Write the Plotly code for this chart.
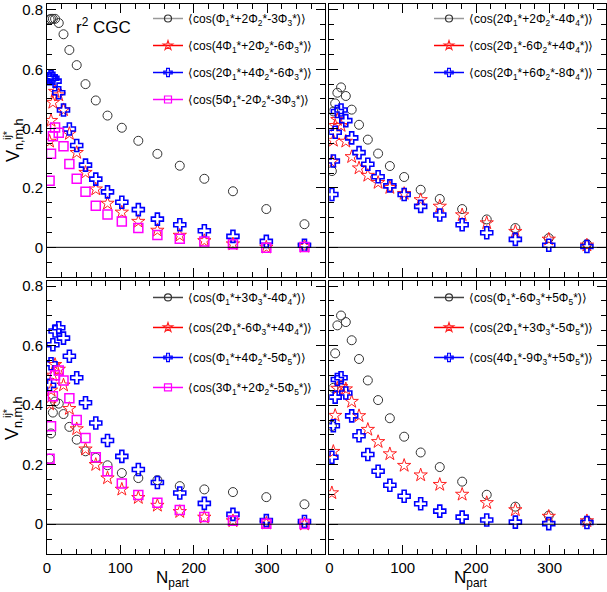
import re
import plotly.graph_objects as go

# N_part of the centrality bins (shared by all series)
npart = [3.5, 5.5, 8, 11, 16, 22.5, 30.5, 40.5, 52.5, 66.5, 82.5, 102, 124.5,
         150.5, 181, 214.5, 253.5, 299, 351]

# top-left panel
tl_names = ["⟨cos(Φ1*+2Φ2*-3Φ3*)⟩", "⟨cos(4Φ1*+2Φ2*-6Φ3*)⟩",
            "⟨cos(2Φ1*+4Φ2*-6Φ3*)⟩", "⟨cos(5Φ1*-2Φ2*-3Φ3*)⟩"]
tl_circle = [0.768, 0.770, 0.770, 0.770, 0.756, 0.718, 0.665, 0.614, 0.550, 0.495,
             0.444, 0.403, 0.359, 0.315, 0.275, 0.231, 0.189, 0.129, 0.078]
tl_star = [0.357, 0.427, 0.488, 0.525, 0.513, 0.463, 0.383, 0.319, 0.252, 0.196,
           0.148, 0.118, 0.087, 0.057, 0.040, 0.022, 0.011, 0.000, 0.003]
tl_cross = [0.568, 0.575, 0.570, 0.560, 0.521, 0.463, 0.399, 0.343, 0.277, 0.230,
            0.187, 0.152, 0.127, 0.095, 0.076, 0.056, 0.037, 0.020, 0.007]
tl_square = [0.224, 0.315, 0.374, 0.404, 0.386, 0.341, 0.281, 0.231, 0.187, 0.140,
             0.111, 0.087, 0.065, 0.042, 0.029, 0.020, 0.010, -0.001, 0.001]

# top-right panel
tr_names = ["⟨cos(2Φ1*+2Φ2*-4Φ4*)⟩", "⟨cos(2Φ1*-6Φ2*+4Φ4*)⟩",
            "⟨cos(2Φ1*+6Φ2*-8Φ4*)⟩"]
tr_circle = [0.257, 0.458, 0.485, 0.521, 0.539, 0.510, 0.464, 0.413, 0.363, 0.316,
             0.274, 0.237, 0.194, 0.163, 0.129, 0.094, 0.065, 0.031, 0.011]
tr_star = [0.289, 0.360, 0.410, 0.430, 0.410, 0.357, 0.305, 0.267, 0.242, 0.218,
           0.201, 0.181, 0.160, 0.138, 0.109, 0.082, 0.053, 0.027, 0.007]
tr_cross = [0.178, 0.291, 0.388, 0.458, 0.463, 0.427, 0.369, 0.319, 0.280, 0.238,
            0.207, 0.178, 0.138, 0.109, 0.076, 0.049, 0.027, 0.007, 0.003]

# bottom-left panel
bl_names = ["⟨cos(Φ1*+3Φ3*-4Φ4*)⟩", "⟨cos(2Φ1*-6Φ3*+4Φ4*)⟩",
            "⟨cos(Φ1*+4Φ2*-5Φ5*)⟩", "⟨cos(3Φ1*+2Φ2*-5Φ5*)⟩"]
bl_circle = [0.220, 0.305, 0.375, 0.412, 0.405, 0.370, 0.327, 0.284, 0.245, 0.223,
             0.198, 0.172, 0.155, 0.148, 0.128, 0.117, 0.108, 0.091, 0.067]
bl_star = [0.403, 0.450, 0.500, 0.536, 0.520, 0.467, 0.388, 0.320, 0.252, 0.200,
           0.155, 0.117, 0.089, 0.063, 0.042, 0.023, 0.011, 0.003, 0.000]
bl_cross = [0.467, 0.539, 0.603, 0.649, 0.660, 0.625, 0.564, 0.492, 0.408, 0.340,
            0.281, 0.228, 0.184, 0.140, 0.105, 0.070, 0.033, 0.012, 0.009]
bl_square = [0.220, 0.329, 0.430, 0.500, 0.516, 0.483, 0.423, 0.350, 0.290, 0.225,
             0.178, 0.137, 0.098, 0.072, 0.048, 0.024, 0.012, 0.002, 0.001]

# bottom-right panel
br_names = ["⟨cos(Φ1*-6Φ3*+5Φ5*)⟩", "⟨cos(2Φ1*+3Φ3*-5Φ5*)⟩",
            "⟨cos(4Φ1*-9Φ3*+5Φ5*)⟩"]
br_circle = [0.330, 0.458, 0.574, 0.668, 0.701, 0.679, 0.618, 0.555, 0.483, 0.417,
             0.356, 0.294, 0.241, 0.192, 0.143, 0.099, 0.059, 0.029, 0.011]
br_star = [0.105, 0.244, 0.365, 0.456, 0.462, 0.454, 0.412, 0.364, 0.318, 0.277,
           0.236, 0.197, 0.165, 0.133, 0.100, 0.072, 0.048, 0.026, 0.011]
br_cross = [0.225, 0.331, 0.427, 0.486, 0.492, 0.441, 0.364, 0.297, 0.234, 0.178,
            0.131, 0.094, 0.069, 0.044, 0.024, 0.014, 0.007, 0.002, 0.006]

FONT = "Liberation Sans, Arial, Helvetica, sans-serif"
W, H = 607, 592
ML, MR, MT, MB = 47, 1, 0, 38
PW, PH = W - ML - MR, H - MT - MB

# marker styles: (symbol, size, marker line width, marker color, legend line color)
STYLES = {
    "circle": ("circle-open", 9, 1, "#333333", "#999999"),
    "star": ("star-open", 10, 1, "#ff2020", "#ff0000"),
    "cross": ("cross-open", 10, 1.6, "#0000ff", "#0000ff"),
    "square": ("square-open", 9, 1.5, "#ff00ff", "#ff00ff"),
}


def fmt_label(s):
    return re.sub(r"Φ(\d)", r"Φ<sub>\1</sub>", s)


def px_x(p):
    return (p - ML) / PW


def px_y(p):
    return 1 - (p - MT) / PH


panels = [
    ("x", "y", "legend", tl_names, [("circle", tl_circle), ("star", tl_star),
                                    ("cross", tl_cross), ("square", tl_square)]),
    ("x2", "y2", "legend2", tr_names, [("circle", tr_circle), ("star", tr_star),
                                       ("cross", tr_cross)]),
    ("x3", "y3", "legend3", bl_names, [("circle", bl_circle), ("star", bl_star),
                                       ("cross", bl_cross), ("square", bl_square)]),
    ("x4", "y4", "legend4", br_names, [("circle", br_circle), ("star", br_star),
                                       ("cross", br_cross)]),
]

fig = go.Figure()

for xa, ya, leg, names, series in panels:
    for i, (kind, vals) in enumerate(series):
        sym, size, lw, col, lcol = STYLES[kind]
        if kind == "circle" and xa in ("x3", "x4"):
            lcol = "#444444"
        fig.add_trace(go.Scatter(
            x=npart, y=vals, xaxis=xa, yaxis=ya, mode="markers",
            marker=dict(symbol=sym, size=size, color=col, line=dict(width=lw, color=col)),
            showlegend=False, hoverinfo="x+y"
        ))
        # legend entry drawn ROOT-style: line + marker
        fig.add_trace(go.Scatter(
            x=[None], y=[None], xaxis=xa, yaxis=ya, mode="lines+markers",
            name=fmt_label(names[i]), legend=leg, legendgroup=f"{leg}_{i}",
            line=dict(color=lcol, width=1.5),
            marker=dict(symbol=sym, size=7, color=col, line=dict(width=1.2, color=col)),
        ))

top_dom = [px_y(275), 1.0]
bot_dom = [0.0, px_y(279)]
left_dom = [0.0, px_x(325)]
right_dom = [px_x(329.3), 1.0]

axis_common = dict(
    showline=True, linecolor="black", linewidth=1, mirror="ticks",
    ticks="inside", ticklen=9, tickcolor="black", tickwidth=1,
    showgrid=False, zeroline=False,
    tickfont=dict(family=FONT, size=15, color="black"),
)

xticks = dict(tick0=0, dtick=100, minor=dict(dtick=20, ticks="inside", ticklen=5,
                                             tickcolor="black", showgrid=False))
yticks = dict(tick0=0, dtick=0.2, minor=dict(dtick=0.05, ticks="inside", ticklen=5,
                                             tickcolor="black", showgrid=False))

layout = dict(
    width=W, height=H,
    margin=dict(l=ML, r=MR, t=MT, b=MB),
    plot_bgcolor="white", paper_bgcolor="white",
    font=dict(family=FONT, color="black"),
    xaxis=dict(domain=left_dom, range=[0, 379], anchor="y", showticklabels=False,
               **xticks, **axis_common),
    xaxis2=dict(domain=right_dom, range=[0, 377], anchor="y2", showticklabels=False,
                **xticks, **axis_common),
    xaxis3=dict(domain=left_dom, range=[0, 379], anchor="y3", **xticks, **axis_common),
    xaxis4=dict(domain=right_dom, range=[0, 377], anchor="y4", **xticks, **axis_common),
    yaxis=dict(domain=top_dom, range=[-0.1, 0.82], anchor="x", **yticks, **axis_common),
    yaxis2=dict(domain=top_dom, range=[-0.1, 0.82], anchor="x2", showticklabels=False,
                **yticks, **axis_common),
    yaxis3=dict(domain=bot_dom, range=[-0.1, 0.817], anchor="x3", **yticks, **axis_common),
    yaxis4=dict(domain=bot_dom, range=[-0.1, 0.817], anchor="x4", showticklabels=False,
                **yticks, **axis_common),
)

legend_pos = {"legend": (148, 0), "legend2": (429, 0), "legend3": (148, 281),
              "legend4": (429, 281)}
for leg, (lx, ly) in legend_pos.items():
    gap = 8 if leg in ("legend", "legend2") else 11
    layout[leg] = dict(x=px_x(lx), y=px_y(ly), xanchor="left", yanchor="top",
                       bgcolor="rgba(0,0,0,0)", borderwidth=0,
                       font=dict(family=FONT, size=12, color="black"),
                       tracegroupgap=gap, itemwidth=30)

fig.update_layout(**layout)

# zero lines
for xa, ya in [("x", "y"), ("x2", "y2"), ("x3", "y3"), ("x4", "y4")]:
    fig.add_shape(type="line", xref=f"{xa} domain", yref=ya, x0=0, x1=1, y0=0, y1=0,
                  line=dict(color="black", width=1))

annotations = [
    dict(text="r<sup>2</sup> CGC", x=103, y=22, size=17, angle=0),
    dict(text="N<sub>part</sub>", x=172, y=579, size=17, angle=0),
    dict(text="N<sub>part</sub>", x=470, y=579, size=17, angle=0),
    dict(text="V<sub>n,m,h</sub>", x=14, y=137, size=18, angle=-90),
    dict(text="ij*", x=7, y=132, size=11, angle=-90),
    dict(text="V<sub>n,m,h</sub>", x=14, y=417, size=18, angle=-90),
    dict(text="ij*", x=7, y=412, size=11, angle=-90),
]
for a in annotations:
    fig.add_annotation(text=a["text"], x=px_x(a["x"]), y=px_y(a["y"]),
                       xref="paper", yref="paper", xanchor="center", yanchor="middle",
                       showarrow=False, textangle=a["angle"],
                       font=dict(family=FONT, size=a["size"], color="black"))

fig.write_html("out.html", config={"displayModeBar": False},
               post_script="document.body.style.margin='0';")
